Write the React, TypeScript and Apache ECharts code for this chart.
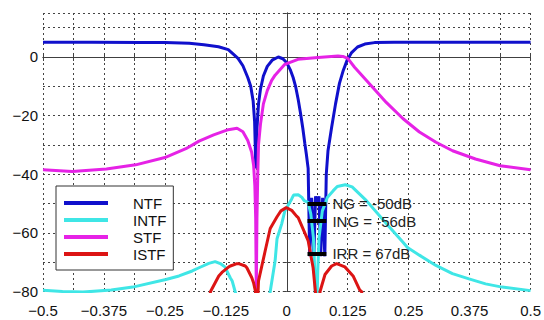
import React, { useEffect, useRef } from "react";
import * as echarts from "echarts";

// ---- data ----
const ntfX = [-0.5, -0.4, -0.3, -0.25, -0.2, -0.17, -0.14, -0.12, -0.1, -0.09, -0.08, -0.074, -0.069, -0.066, -0.0635, -0.061, -0.058, -0.054, -0.048, -0.04, -0.03, -0.0175, -0.008, 0, 0.007, 0.013, 0.018, 0.0234, 0.028, 0.033, 0.037, 0.04, 0.0438, 0.047, 0.051, 0.0555, 0.059, 0.0625, 0.066, 0.0695, 0.0735, 0.078, 0.081, 0.0845, 0.092, 0.1, 0.108, 0.116, 0.124, 0.133, 0.145, 0.16, 0.18, 0.22, 0.3, 0.4, 0.5];
const ntfY = [5, 5, 4.95, 4.9, 4.7, 4.2, 3.5, 2.5, -0.5, -3, -7, -10, -15, -22, -38, -24, -16, -11, -6.5, -3.2, -1.1, 0, -0.6, -2, -4.3, -7, -10, -14.5, -19, -24.5, -29.5, -33, -38, -68, -48, -68, -47.5, -50, -47.5, -68, -48, -68, -40, -32, -24, -16, -9, -4.5, -1, 1.5, 3.4, 4.4, 4.9, 5, 5, 5, 5];

const intfX = [-0.5, -0.46, -0.418, -0.36, -0.316, -0.248, -0.221, -0.194, -0.18, -0.16, -0.147, -0.135, -0.127, -0.116, -0.112, -0.106, -0.09, -0.0625, -0.045, -0.034, -0.024, -0.02, -0.0106, -0.004, 0.003, 0.0098, 0.0139, 0.0234, 0.031, 0.0356, 0.0438, 0.0493, 0.0546, 0.0574, 0.0605, 0.0635, 0.0662, 0.0729, 0.0784, 0.0831, 0.0953, 0.1035, 0.12, 0.134, 0.1633, 0.204, 0.2379, 0.2475, 0.2719, 0.3059, 0.3397, 0.3737, 0.4077, 0.4415, 0.5];
const intfY = [-79.6, -80, -80.2, -79.5, -78.5, -75.9, -74.7, -73, -71.9, -70.4, -69.8, -70.6, -71.6, -75.3, -76.4, -80, -90, -100, -90, -80, -69.6, -62, -57, -52.5, -50.5, -48.5, -47.1, -47, -47.9, -49, -49.6, -53.6, -61.6, -73, -95, -73, -61.6, -52.5, -50.2, -47.9, -45.6, -44.2, -43.6, -44.3, -49, -56.8, -63.1, -65, -67.6, -71.1, -73.9, -75.7, -77.4, -78.5, -79.7];

const stfX = [-0.5, -0.44, -0.37, -0.31, -0.25, -0.207, -0.18, -0.15, -0.12, -0.102, -0.09, -0.08, -0.072, -0.068, -0.0655, -0.0638, -0.0625, -0.0612, -0.0595, -0.058, -0.054, -0.048, -0.04, -0.031, -0.024, -0.004, 0.023, 0.064, 0.105, 0.115, 0.125, 0.139, 0.17, 0.204, 0.238, 0.272, 0.306, 0.34, 0.387, 0.4375, 0.5];
const stfY = [-38.5, -39.1, -38.2, -36.8, -34.3, -31.3, -28.7, -26.6, -24.8, -24.3, -25.5, -28.5, -32.5, -37, -44, -55, -80, -55, -40, -30, -23, -16, -11.5, -8, -6.2, -2.5, -0.8, -0.2, 0.3, 0.2, -0.5, -3.5, -9.2, -15.5, -21, -25.6, -29.1, -32, -34.8, -37.1, -38.5];

const istfX = [-0.165, -0.1564, -0.1395, -0.133, -0.119, -0.1157, -0.1022, -0.0988, -0.0851, -0.0819, -0.0717, -0.0682, -0.0642, -0.0625, -0.058, -0.0444, -0.034, -0.02, -0.012, -0.001, 0.01, 0.02, 0.0234, 0.0411, 0.0438, 0.054, 0.0587, 0.0635, 0.0682, 0.0784, 0.092, 0.1022, 0.1191, 0.136, 0.1497, 0.1532, 0.165];
const istfY = [-88, -80, -74.7, -73.5, -71.6, -71.3, -70.5, -70.5, -71.3, -71.9, -75.3, -77, -80, -95, -76.4, -66.2, -58.5, -54.5, -52.5, -51.4, -52.3, -54.3, -54.8, -61.6, -62.7, -71.9, -80, -95, -80, -74.2, -71.3, -70.5, -71.6, -74.7, -79.5, -80, -88];

const seriesNames = ["NTF", "INTF", "STF", "ISTF"];
const seriesColors = ["#1010cc", "#3fe6e6", "#e622e6", "#dc1414"];

const markerNames = ["NG = -50dB", "ING = -56dB", "IRR = 67dB"];
const markerLevels = [-50, -56, -67];
const markerSpan = [0.0425, 0.0812];

const xTickStep = 0.0625;
const xLabelStep = 0.125;
const yTickStep = 10;
const yLabelStep = 20;

const zip = (xs: number[], ys: number[]) => xs.map((x, i) => [x, ys[i]]);

const minus = (v: number) => (v === 0 ? "0" : (v < 0 ? "\u2212" : "") + String(Math.abs(v)));
const onStep = (v: number, step: number) => {
  const k = v / step;
  return Math.abs(k - Math.round(k)) < 1e-9;
};

const FONT = "'Liberation Sans', Arial, Helvetica, sans-serif";

export default function App() {
  const ref = useRef<HTMLDivElement>(null);
  useEffect(() => {
    if (!ref.current) return;
    const chart = echarts.init(ref.current, undefined, { renderer: "svg" });
    const datas = [zip(ntfX, ntfY), zip(intfX, intfY), zip(stfX, stfY), zip(istfX, istfY)];
    const gridLine = { show: true, lineStyle: { color: "#444", width: 1, type: [2, 3] as any } };
    const axisLine = { show: true, lineStyle: { color: "#404040", width: 1 } };
    const tick = { show: true, inside: true, length: 4, lineStyle: { color: "#404040" } };
    chart.setOption({
      animation: false,
      backgroundColor: "#fff",
      grid: { left: 43, right: 10, top: 13, bottom: 28.5, containLabel: false },
      legend: {
        orient: "vertical",
        left: 56,
        top: 186,
        data: seriesNames,
        icon: "rect",
        itemWidth: 44,
        itemHeight: 4,
        itemGap: 1,
        padding: [9, 7, 8, 8],
        backgroundColor: "#fff",
        borderColor: "#333",
        borderWidth: 1,
        borderRadius: 0,
        selectedMode: false,
        textStyle: { color: "#111", fontSize: 15, fontFamily: FONT, lineHeight: 16, padding: [0, 0, 0, 20] },
      },
      xAxis: [
        {
          type: "value",
          min: -0.5,
          max: 0.5,
          interval: xTickStep,
          axisLine,
          axisTick: tick,
          splitLine: gridLine,
          axisLabel: {
            color: "#111",
            fontSize: 15,
            fontFamily: FONT,
            margin: 11,
            showMinLabel: true,
            showMaxLabel: true,
            formatter: (v: number) => (onStep(v, xLabelStep) ? minus(v) : ""),
          },
        },
        {
          type: "value",
          position: "top",
          min: -0.5,
          max: 0.5,
          interval: xTickStep,
          axisLine,
          axisTick: tick,
          splitLine: { show: false },
          axisLabel: { show: false },
        },
      ],
      yAxis: [
        {
          type: "value",
          min: -80,
          max: 15,
          interval: yTickStep,
          axisLine,
          axisTick: tick,
          splitLine: gridLine,
          axisLabel: {
            color: "#111",
            fontSize: 15,
            fontFamily: FONT,
            margin: 5,
            formatter: (v: number) => (onStep(v, yLabelStep) ? minus(v) : ""),
          },
        },
        {
          type: "value",
          position: "right",
          min: -80,
          max: 15,
          interval: yTickStep,
          axisLine,
          axisTick: tick,
          splitLine: { show: false },
          axisLabel: { show: false },
        },
      ],
      series: seriesNames.map((name, i) => ({
        name,
        type: "line",
        xAxisIndex: 0,
        yAxisIndex: 0,
        data: datas[i],
        showSymbol: false,
        symbol: "none",
        silent: true,
        clip: true,
        color: seriesColors[i],
        lineStyle: { color: seriesColors[i], width: 3 },
        markLine:
          i === seriesNames.length - 1
            ? {
                silent: true,
                symbol: "none",
                animation: false,
                lineStyle: { color: "#000", width: 4, type: "solid" },
                label: {
                  show: true,
                  position: "end",
                  distance: 6,
                  color: "#222",
                  fontSize: 15,
                  fontFamily: FONT,
                  formatter: (p: any) => p.name,
                },
                emphasis: { disabled: true },
                data: markerLevels.map((lv, k) => [
                  { name: markerNames[k], coord: [markerSpan[0], lv] },
                  { coord: [markerSpan[1], lv] },
                ]),
              }
            : undefined,
      })),
    });
    return () => chart.dispose();
  }, []);
  return <div ref={ref} style={{ position: "absolute", left: 0, top: 0, width: 544, height: 320 }} />;
}
